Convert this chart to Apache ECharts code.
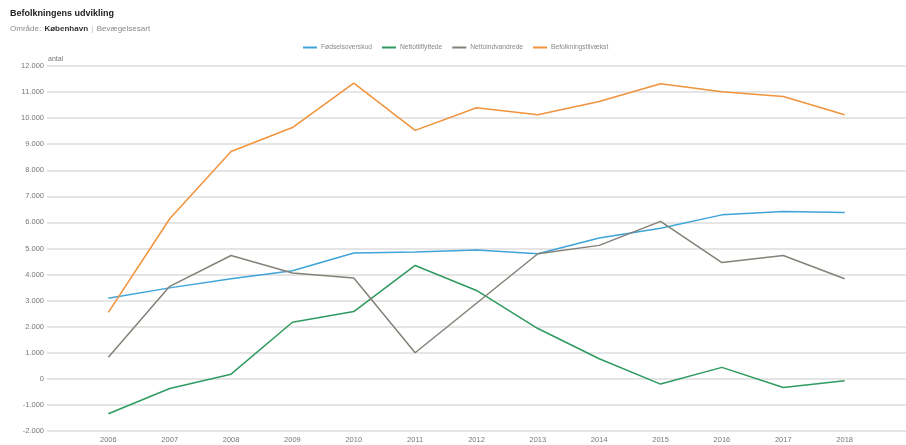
<!DOCTYPE html>
<html>
<head>
<meta charset="utf-8">
<script src="https://cdn.jsdelivr.net/npm/echarts@6/dist/echarts.min.js"></script>
<style>
  html, body { margin: 0; padding: 0; background: #fff; }
  #chart { width: 906px; height: 445px; }
</style>
</head>
<body>
<div id="chart"></div>
<script>
// years on the x axis
const years = [2006, 2007, 2008, 2009, 2010, 2011, 2012, 2013, 2014, 2015, 2016, 2017, 2018]

const seriesNames = ['Fødselsoverskud', 'Nettotilflyttede', 'Nettoindvandrede', 'Befolkningstilvækst']
const seriesColors = ['#3ea4d8', '#2f9a5f', '#858179', '#f0933b']

const foedselsoverskud = [3090, 3490, 3840, 4150, 4830, 4870, 4940, 4800, 5400, 5780, 6290, 6420, 6380]
const nettotilflyttede = [-1340, -370, 180, 2170, 2580, 4350, 3390, 1930, 770, -200, 440, -330, -70]
const nettoindvandrede = [830, 3550, 4730, 4060, 3870, 1000, 2900, 4800, 5120, 6040, 4460, 4730, 3840]
const befolkningstilvaekst = [2550, 6140, 8720, 9640, 11340, 9530, 10400, 10130, 10640, 11320, 11010, 10830, 10130]

const yTicks = { min: -2000, max: 12000, step: 1000 }

const chart = echarts.init(document.getElementById('chart'))

const fmt = (v) => {
  // danish thousand separator
  const s = Math.abs(v).toString().replace(/\B(?=(\d{3})+(?!\d))/g, '.')
  return (v < 0 ? '-' : '') + s
}

const allValues = [foedselsoverskud, nettotilflyttede, nettoindvandrede, befolkningstilvaekst]
const series = seriesNames.map((name, i) => ({
  name: name,
  type: 'line',
  showSymbol: false,
  symbol: 'none',
  lineStyle: { width: 1.5, color: seriesColors[i] },
  itemStyle: { color: seriesColors[i] },
  data: years.map((y, j) => [y, allValues[i][j]])
}))

const option = {
  animation: false,
  textStyle: { fontFamily: 'Liberation Sans, Arial, sans-serif' },
  title: {
    text: 'Befolkningens udvikling',
    left: 5,
    top: 4,
    itemGap: 5,
    textStyle: { fontSize: 9, fontWeight: 'bold', color: '#222' },
    subtext: '{l|Område:} {b|København} {s||} {l|Bevægelsesart}',
    subtextStyle: {
      rich: {
        l: { fontSize: 8, color: '#8a8a8a' },
        b: { fontSize: 8, color: '#333', fontWeight: 'bold' },
        s: { fontSize: 8, color: '#bbb' }
      }
    }
  },
  legend: {
    top: 39,
    left: 298,
    itemWidth: 14,
    itemHeight: 2,
    itemGap: 10,
    icon: 'rect',
    textStyle: { fontSize: 6.7, color: '#888', padding: [0, 0, 0, -1] },
    data: seriesNames
  },
  grid: {
    left: 47,
    right: -4,
    top: 66,
    bottom: 14,
    containLabel: false
  },
  xAxis: {
    type: 'value',
    min: 2005,
    max: 2019,
    interval: 1,
    axisLine: { show: false },
    axisTick: { show: false },
    splitLine: { show: false },
    axisLabel: {
      showMinLabel: false,
      showMaxLabel: false,
      fontSize: 7.5,
      color: '#777',
      margin: 5,
      formatter: (v) => String(v)
    }
  },
  yAxis: {
    type: 'value',
    min: yTicks.min,
    max: yTicks.max,
    interval: yTicks.step,
    name: 'antal',
    nameLocation: 'end',
    nameGap: 3,
    nameTextStyle: { fontSize: 7, color: '#777', align: 'left', padding: [0, 0, 0, 1] },
    axisLine: { show: false },
    axisTick: { show: false },
    splitLine: { lineStyle: { color: '#dcdcdc', width: 1.5 } },
    axisLabel: {
      fontSize: 7.5,
      color: '#777',
      margin: 3,
      formatter: fmt
    }
  },
  series: series
}

chart.setOption(option)
</script>
</body>
</html>
